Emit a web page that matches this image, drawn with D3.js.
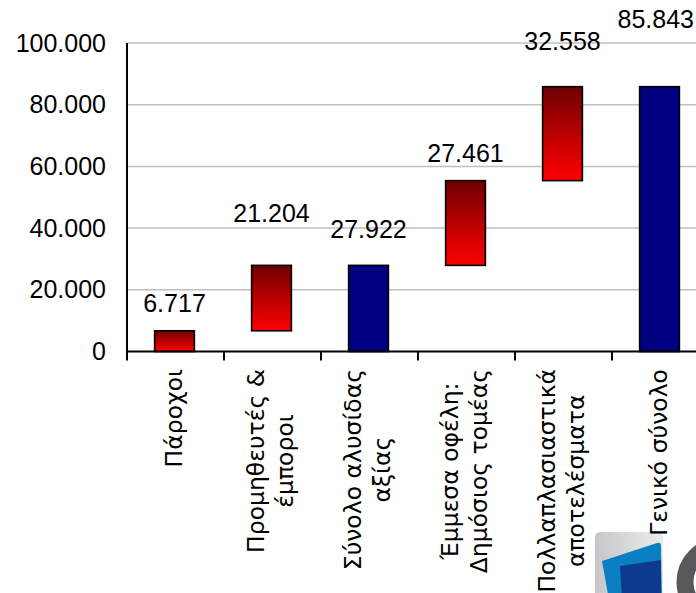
<!DOCTYPE html>
<html>
<head>
<meta charset="utf-8">
<script src="https://cdn.jsdelivr.net/npm/d3@7"></script>
<style>
  html, body { margin: 0; padding: 0; background: #fff; }
  svg { display: block; }
</style>
</head>
<body>
<main></main>
<script>
const width = 696;
const height = 593;

// chart values (Greek notation: "." is the thousands separator)
const categories = ["Πάροχοι", "Προμηθευτές & έμποροι", "Σύνολο αλυσίδας αξίας",
                    "Έμμεσα οφέλη: Δημόσιος τομέας", "Πολλαπλασιαστικά αποτελέσματα", "Γενικό σύνολο"];
const labelLines = [["Πάροχοι"], ["Προμηθευτές &", "έμποροι"], ["Σύνολο αλυσίδας", "αξίας"],
                    ["Έμμεσα οφέλη:", "Δημόσιος τομέας"], ["Πολλαπλασιαστικά", "αποτελέσματα"], ["Γενικό σύνολο"]];
const values = [6717, 21204, 27922, 27461, 32558, 85843];
const barLow = [0, 6717, 0, 27922, 55383, 0];
const barHigh = [6717, 27921, 27922, 55383, 85843, 85843];
const isTotal = [false, false, true, false, false, true];
const labelAt = [12800, 42000, 36900, 61400, 97700, 104900];
const yTicks = [0, 20000, 40000, 60000, 80000, 100000];

const locale = d3.formatLocale({decimal: ",", thousands: ".", grouping: [3], currency: ["", "€"]});
const fmt = locale.format(",d");

const svg = d3.select('main')
              .append('svg')
              .attr('width', width)
              .attr('height', height);

const defs = svg.append('defs');
const redGrad = defs.append('linearGradient')
                    .attr('id', 'redGrad')
                    .attr('x1', 0).attr('y1', 0).attr('x2', 0).attr('y2', 1);
redGrad.append('stop').attr('offset', '0%').attr('stop-color', '#6e0000');
redGrad.append('stop').attr('offset', '55%').attr('stop-color', '#c00000');
redGrad.append('stop').attr('offset', '100%').attr('stop-color', '#ff0000');

const logoGrad = defs.append('linearGradient')
                     .attr('id', 'logoGrad')
                     .attr('x1', 0).attr('y1', 0).attr('x2', 1).attr('y2', 0);
logoGrad.append('stop').attr('offset', '0%').attr('stop-color', '#c6c7c9');
logoGrad.append('stop').attr('offset', '100%').attr('stop-color', '#ececec');

const xScale = d3.scaleBand()
                 .domain(categories)
                 .range([127, 709])
                 .padding(0);

const yScale = d3.scaleLinear()
                 .domain([0, 100000])
                 .range([351.5, 43]);

// gridlines
svg.append('g')
   .selectAll('line')
   .data(yTicks.slice(1))
   .enter()
   .append('line')
   .attr('x1', 127)
   .attr('x2', width)
   .attr('y1', (d) => yScale(d))
   .attr('y2', (d) => yScale(d))
   .attr('stroke', '#bfbfbf')
   .attr('stroke-width', 1.5);

// y axis labels
const yAxis = svg.append('g')
   .attr('transform', 'translate(127, 0)')
   .call(d3.axisLeft(yScale).tickValues(yTicks).tickFormat(fmt).tickSize(0).tickPadding(21));
yAxis.select('.domain').remove();
yAxis.selectAll('text')
     .attr('font-family', 'Liberation Sans, Arial, sans-serif')
     .attr('font-size', 25)
     .attr('fill', '#000');

// bars
const barW = xScale.bandwidth() * 0.41;
svg.append('g')
   .selectAll('rect')
   .data(categories)
   .enter()
   .append('rect')
   .attr('x', (d) => xScale(d) + xScale.bandwidth() / 2 - barW / 2 - 1)
   .attr('y', (d, i) => yScale(barHigh[i]))
   .attr('width', barW)
   .attr('height', (d, i) => yScale(barLow[i]) - yScale(barHigh[i]))
   .attr('fill', (d, i) => isTotal[i] ? '#000080' : 'url(#redGrad)')
   .attr('stroke', '#000')
   .attr('stroke-width', 1.6);

// axis lines and ticks
svg.append('line')
   .attr('x1', 127).attr('x2', 127)
   .attr('y1', yScale(100000)).attr('y2', yScale(0) + 9)
   .attr('stroke', '#000').attr('stroke-width', 2);
svg.append('line')
   .attr('x1', 127).attr('x2', width)
   .attr('y1', yScale(0)).attr('y2', yScale(0))
   .attr('stroke', '#000').attr('stroke-width', 2);
svg.append('g')
   .selectAll('line')
   .data(categories.slice(1))
   .enter()
   .append('line')
   .attr('x1', (d) => xScale(d)).attr('x2', (d) => xScale(d))
   .attr('y1', yScale(0)).attr('y2', yScale(0) + 9)
   .attr('stroke', '#000').attr('stroke-width', 2);

// value labels
svg.append('g')
   .selectAll('text')
   .data(values)
   .enter()
   .append('text')
   .attr('x', (d, i) => xScale(categories[i]) + xScale.bandwidth() / 2 - 1)
   .attr('y', (d, i) => yScale(labelAt[i]))
   .attr('text-anchor', 'middle')
   .attr('font-family', 'Liberation Sans, Arial, sans-serif')
   .attr('font-size', 25)
   .attr('fill', '#000')
   .text((d) => fmt(d))
   .each(function () {
       const box = this.getBBox();
       if (box.x + box.width > width - 2) {
           d3.select(this).attr('text-anchor', 'end').attr('x', width - 2);
       }
   });

// logo (bottom right, partly outside the picture)
const logo = svg.append('g');
logo.append('rect')
    .attr('x', 595).attr('y', 532).attr('width', 68).attr('height', 80)
    .attr('rx', 5)
    .attr('fill', 'url(#logoGrad)');
logo.append('path')
    .attr('d', 'M602,561 L657,543 Q661,542 661,546 L662,600 L609,600 Z')
    .attr('fill', '#0b7fc3');
logo.append('path')
    .attr('d', 'M620,566 L661,560 L661,600 L622,600 Z')
    .attr('fill', '#0c3b8d');
logo.append('circle')
    .attr('cx', 721).attr('cy', 582).attr('r', 36)
    .attr('fill', 'none')
    .attr('stroke', '#58595b')
    .attr('stroke-width', 17);

// category labels, rotated, lines centred on each other
const labelTop = 369;
const lineStep = 29;
const catG = svg.append('g');
categories.forEach((c, i) => {
    const cx = xScale(c) + xScale.bandwidth() / 2;
    const g = catG.append('g')
                  .attr('transform', 'translate(' + cx + ', 0) rotate(-90)');
    const lines = labelLines[i];
    const texts = g.selectAll('text')
                   .data(lines)
                   .enter()
                   .append('text')
                   .attr('text-anchor', 'middle')
                   .attr('dominant-baseline', 'central')
                   .attr('font-family', 'DejaVu Sans, Verdana, sans-serif')
                   .attr('font-size', 23.5)
                   .attr('fill', '#000')
                   .attr('y', (d, j) => (j - (lines.length - 1) / 2) * lineStep - 2)
                   .text((d) => d);
    let maxLen = 0;
    texts.each(function () { maxLen = Math.max(maxLen, this.getComputedTextLength()); });
    texts.attr('x', -(labelTop + maxLen / 2));
});
</script>
</body>
</html>
